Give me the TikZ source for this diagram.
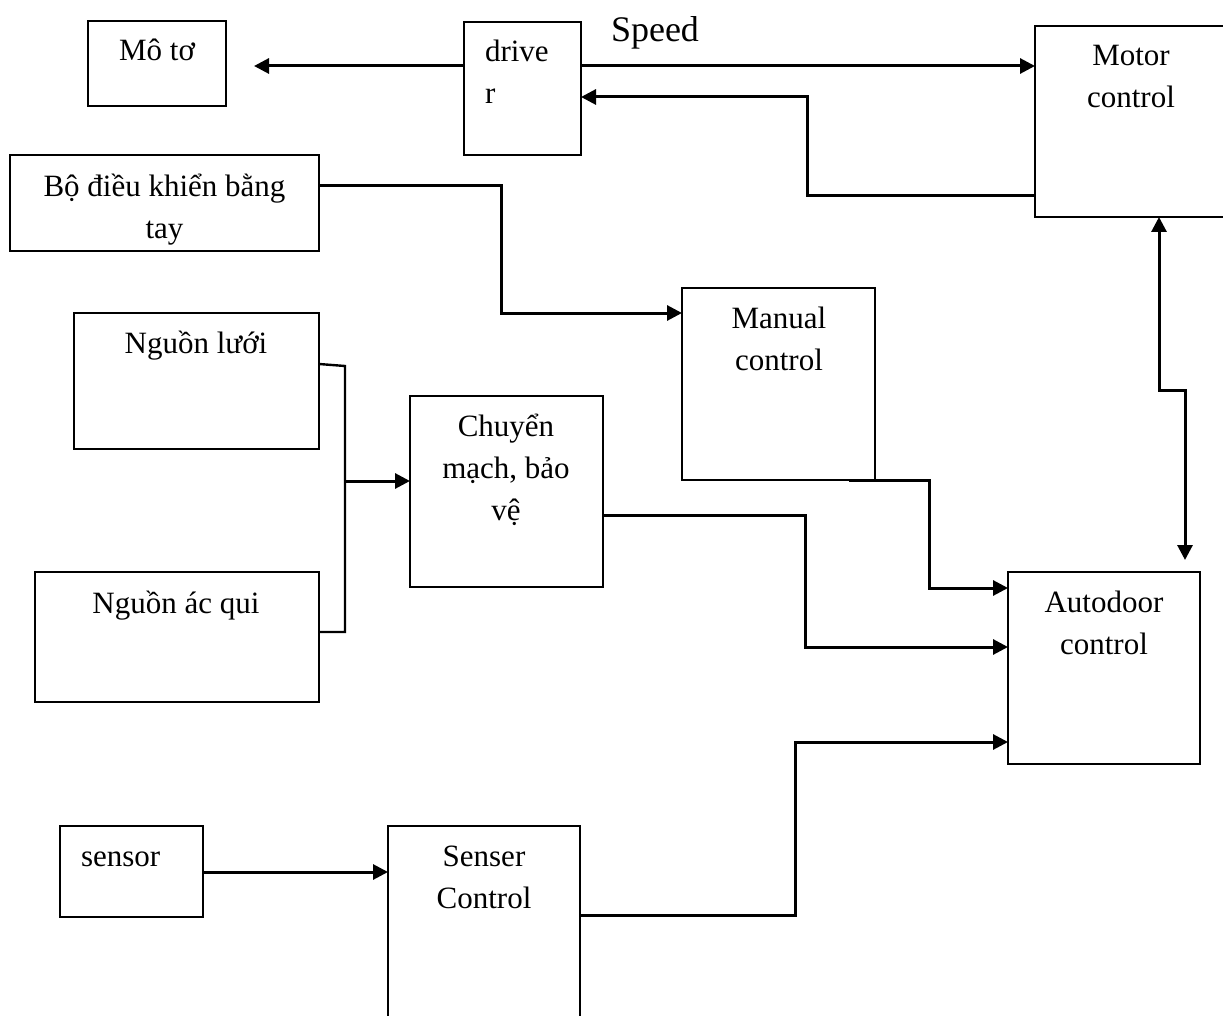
\documentclass[tikz,border=0pt]{standalone}
\usepackage{fontspec}
\setmainfont{Liberation Serif}
\usetikzlibrary{arrows.meta,calc}

\begin{document}
\begin{tikzpicture}[x=1pt,y=-1pt,
  blk/.style={draw, line width=2.4pt, rectangle, inner sep=0pt, outer sep=0pt, anchor=north west},
  % multi-line labels sit on the baseline of their last line
  lbl/.style={inner sep=0pt, outer sep=0pt, anchor=base, align=center, font=\fontsize{31}{42}\selectfont},
  wire/.style={line width=3pt},
  arr/.style={wire, -{Triangle[length=15pt,width=15pt]}},
  arrboth/.style={wire, {Triangle[length=15pt,width=15pt]}-{Triangle[length=15pt,width=15pt]}},
]
\useasboundingbox (0,0) rectangle (1223,1016);
\clip (0,0) rectangle (1223,1016);

% blocks
\node[blk, minimum width=138, minimum height=85]  (moto)   at (88,21)   {};
\node[blk, minimum width=117, minimum height=133] (drv)    at (464,22)  {};
\node[blk, minimum width=200, minimum height=191] (motor)  at (1035,26) {};
\node[blk, minimum width=309, minimum height=96]  (bo)     at (10,155)  {};
\node[blk, minimum width=193, minimum height=192] (manual) at (682,288) {};
\node[blk, minimum width=245, minimum height=136] (luoi)   at (74,313)  {};
\node[blk, minimum width=193, minimum height=191] (chuyen) at (410,396) {};
\node[blk, minimum width=284, minimum height=130] (acqui)  at (35,572)  {};
\node[blk, minimum width=192, minimum height=192] (auto)   at (1008,572) {};
\node[blk, minimum width=143, minimum height=91]  (sensor) at (60,826)  {};
\node[blk, minimum width=192, minimum height=220] (senser) at (388,826) {};

% labels
\node[lbl] (t-moto) at (157,61) {Mô tơ};
\node[lbl, anchor=base west, align=left] (t-drv) at (485,104) {drive\\r};
\node[lbl, anchor=base west, font=\fontsize{36}{42}\selectfont] (t-speed) at (611,42) {Speed};
\node[lbl] (t-motor) at (1131,108) {Motor\\control};
\node[lbl] (t-bo) at (164.5,239) {Bộ điều khiển bằng\\tay};
\node[lbl] (t-manual) at (779,370) {Manual\\control};
\node[lbl] (t-luoi) at (196,353) {Nguồn lưới};
\node[lbl] (t-chuyen) at (506,520) {Chuyển\\mạch, bảo\\vệ};
\node[lbl] (t-acqui) at (176,613) {Nguồn ác qui};
\node[lbl] (t-auto) at (1104,654) {Autodoor\\control};
\node[lbl, anchor=base west] (t-sensor) at (81,866) {sensor};
\node[lbl] (t-senser) at (484,908) {Senser\\Control};

% routing points
\coordinate (mo-tip) at (254,66);
\coordinate (fb1) at (807,196);
\coordinate (fb2) at (807,97);
\coordinate (j1) at (501,186);
\coordinate (j2) at (501,313);
\coordinate (b0) at (319,364);
\coordinate (b1) at (345,366);
\coordinate (b2) at (345,632);
\coordinate (bm) at (345,481);
\coordinate (c1) at (805,515);
\coordinate (c2) at (805,647);
\coordinate (m0) at ($(manual.south east)+(-26,0)$);
\coordinate (m1) at (929,480);
\coordinate (m2) at (929,588);
\coordinate (v1) at (1159,390);
\coordinate (v2) at (1185,390);
\coordinate (v3) at (1185,560);
\coordinate (s1) at (0,872);
\coordinate (k1) at (795,915);
\coordinate (k2) at (795,742);

% connectors
\draw[arr] (drv.west |- mo-tip) -- (mo-tip);
\draw[arr] (drv.east |- mo-tip) -- (motor.west |- mo-tip);
\draw[arr] (motor.west |- fb1) -- (fb1) -- (fb2) -- (drv.east |- fb2);
\draw[arr] (bo.east |- j1) -- (j1) -- (j2) -- (manual.west |- j2);
\draw[wire, line width=2.4pt] (luoi.east |- b0) -- (b1) -- (b2) -- (acqui.east |- b2);
\draw[arr] (bm) -- (chuyen.west |- bm);
\draw[arr] (chuyen.east |- c1) -- (c1) -- (c2) -- (auto.west |- c2);
\draw[arr] (m0) -- (m1) -- (m2) -- (auto.west |- m2);
\draw[arrboth] (motor.south -| v1) -- (v1) -- (v2) -- (v3);
\draw[arr] (sensor.east |- s1) -- (senser.west |- s1);
\draw[arr] (senser.east |- k1) -- (k1) -- (k2) -- (auto.west |- k2);
\end{tikzpicture}
\end{document}
